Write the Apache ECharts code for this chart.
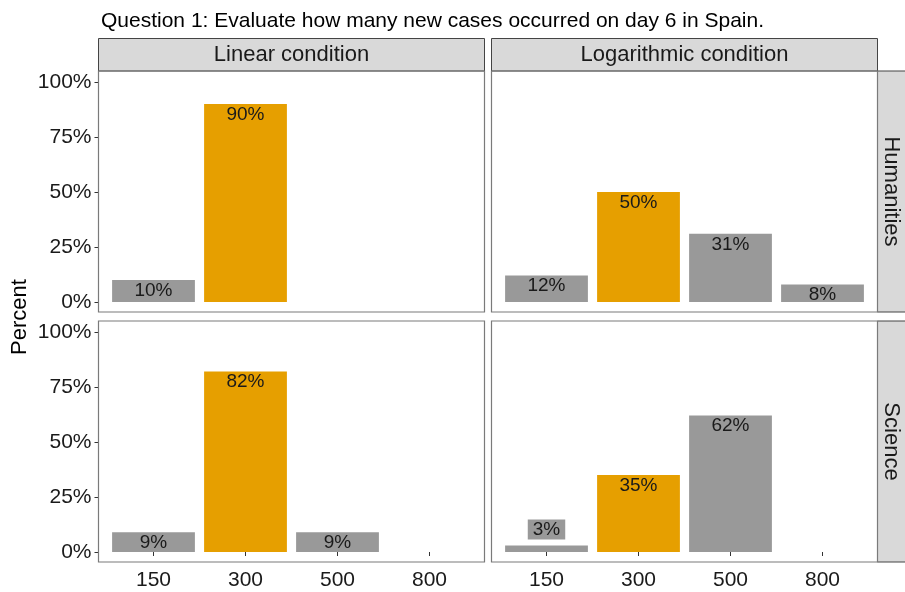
<!DOCTYPE html>
<html>
<head>
<meta charset="utf-8">
<script src="https://cdn.jsdelivr.net/npm/echarts@6/dist/echarts.min.js"></script>
<style>html,body{margin:0;padding:0;background:#fff;}#c{width:905px;height:592px;}</style>
</head>
<body>
<div id="c"></div>
<script>
const title = 'Question 1: Evaluate how many new cases occurred on day 6 in Spain.';
const categories = ['150', '300', '500', '800'];
const colLabels = ['Linear condition', 'Logarithmic condition'];
const rowLabels = ['Humanities', 'Science'];
const yTicks = [0, 25, 50, 75, 100];
const linearHumanities = [10, 90, null, null];
const logHumanities = [12, 50, 31, 8];
const linearScience = [9, 82, 9, null];
const logScience = [3, 35, 62, null];
const highlightCategory = '300';

const panelValues = [linearHumanities, logHumanities, linearScience, logScience];
const ORANGE = '#E69F00', GRAY = '#999999';
const FONT = 'Liberation Sans, Arial, sans-serif';

// panel geometry
const panelLeft = [98.5, 491.5];
const panelWidth = 386;
const panelTop = [71, 321];
const panelHeight = 241;
const catStep = 92;
const yPerPct = 2.2;

const grids = [], xAxes = [], yAxes = [], series = [], graphics = [];
for (let r = 0; r < 2; r++) {
  for (let c = 0; c < 2; c++) {
    const i = r * 2 + c;
    const gl = panelLeft[c] + (panelWidth - catStep * 4) / 2;
    const gt = panelTop[r] + 5 * yPerPct;
    grids.push({ left: gl, top: gt, width: catStep * 4, height: 100 * yPerPct });
    xAxes.push({
      gridIndex: i, type: 'category', data: categories,
      offset: 5 * yPerPct,
      axisLine: { show: false },
      axisTick: { show: r === 1, alignWithLabel: true, length: 4, lineStyle: { color: '#333' } },
      axisLabel: { show: r === 1, color: '#1a1a1a', fontSize: 21, fontFamily: FONT, margin: 7 },
      splitLine: { show: false }
    });
    yAxes.push({
      gridIndex: i, type: 'value', min: yTicks[0], max: yTicks[yTicks.length - 1], interval: 25,
      offset: (panelWidth - catStep * 4) / 2,
      axisLine: { show: false },
      axisTick: { show: c === 0, length: 4, lineStyle: { color: '#333' } },
      axisLabel: { show: c === 0, formatter: '{value}%', color: '#1a1a1a', fontSize: 21, fontFamily: FONT, margin: 7 },
      splitLine: { show: false }
    });
    const vals = panelValues[i];
    series.push({
      type: 'bar', xAxisIndex: i, yAxisIndex: i, barCategoryGap: '10%',
      data: vals.map((v, k) => {
        if (v === null) return '-';
        const d = { value: v, itemStyle: { color: categories[k] === highlightCategory ? ORANGE : GRAY } };
        if (v < 5) {
          d.label = { position: 'top', distance: 6, backgroundColor: GRAY, padding: [1, 5, 0, 5], lineHeight: 19 };
        }
        return d;
      }),
      label: {
        show: true, position: 'insideTop', distance: 1,
        formatter: p => p.value + '%',
        color: '#1a1a1a', fontSize: 19, fontFamily: FONT
      }
    });
    // panel border
    graphics.push({
      type: 'rect', z: 100,
      shape: { x: panelLeft[c], y: panelTop[r], width: panelWidth, height: panelHeight },
      style: { fill: null, stroke: '#7a7a7a', lineWidth: 1.2 }
    });
  }
}
// top strips
for (let c = 0; c < 2; c++) {
  graphics.push({
    type: 'rect', shape: { x: panelLeft[c], y: 38.5, width: panelWidth, height: 32.5 },
    style: { fill: '#D9D9D9', stroke: '#444', lineWidth: 1 }
  });
  graphics.push({
    type: 'text', x: panelLeft[c] + panelWidth / 2, y: 55,
    style: { text: colLabels[c], fill: '#1a1a1a', font: '22px ' + FONT, textAlign: 'center', textVerticalAlign: 'middle' }
  });
}
// right strips
for (let r = 0; r < 2; r++) {
  graphics.push({
    type: 'rect', shape: { x: 877.5, y: panelTop[r], width: 32, height: panelHeight },
    style: { fill: '#D9D9D9', stroke: '#444', lineWidth: 1 }
  });
  graphics.push({
    type: 'text', x: 891, y: panelTop[r] + panelHeight / 2, rotation: -Math.PI / 2,
    style: { text: rowLabels[r], fill: '#1a1a1a', font: '22px ' + FONT, textAlign: 'center', textVerticalAlign: 'middle' }
  });
}
// y axis title
graphics.push({
  type: 'text', x: 20, y: 317, rotation: Math.PI / 2,
  style: { text: 'Percent', fill: '#000', font: '22px ' + FONT, textAlign: 'center', textVerticalAlign: 'middle' }
});

const chart = echarts.init(document.getElementById('c'), null, { renderer: 'canvas' });
chart.setOption({
  animation: false,
  backgroundColor: '#fff',
  title: { text: title, left: 96, top: 6, textStyle: { fontSize: 21, fontWeight: 'normal', color: '#000', fontFamily: FONT } },
  grid: grids, xAxis: xAxes, yAxis: yAxes, series: series, graphic: graphics
});
</script>
</body>
</html>
